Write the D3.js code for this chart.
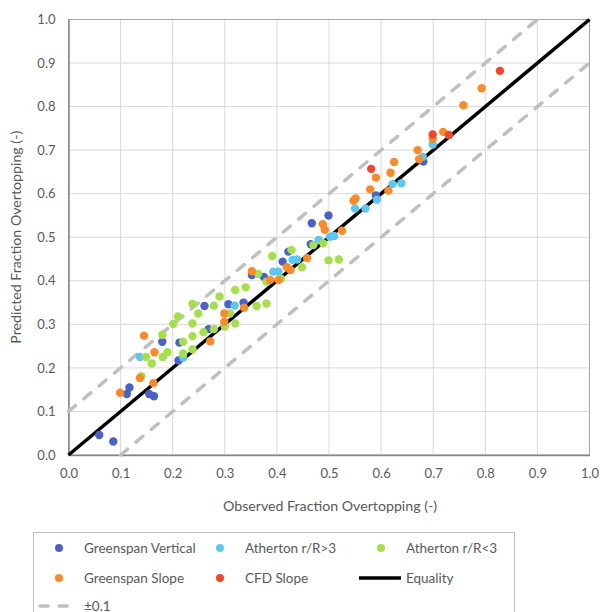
<!DOCTYPE html>
<html>
<head>
<meta charset="utf-8">
<script src="https://cdn.jsdelivr.net/npm/d3@7"></script>
<style>
  body { margin: 0; background: #fff; }
  text { font-family: Lato, "Open Sans", sans-serif; fill: #595959; }
</style>
</head>
<body>
<div id="chart"></div>
<script>
// values
const greenspanVertical = [
  [0.059,0.046],[0.086,0.031],[0.117,0.155],[0.112,0.14],[0.155,0.14],[0.164,0.135],
  [0.18,0.26],[0.211,0.217],[0.213,0.258],[0.269,0.289],[0.261,0.342],[0.307,0.346],
  [0.336,0.35],[0.352,0.413],[0.375,0.409],[0.411,0.444],[0.422,0.467],[0.465,0.484],
  [0.467,0.532],[0.499,0.55],[0.59,0.596],[0.681,0.674]
];
const athertonAbove3 = [
  [0.137,0.225],[0.22,0.224],[0.319,0.343],[0.393,0.421],[0.403,0.421],[0.43,0.448],
  [0.439,0.449],[0.48,0.494],[0.502,0.501],[0.51,0.503],[0.55,0.566],[0.57,0.566],
  [0.592,0.586],[0.622,0.622],[0.639,0.624],[0.68,0.685],[0.699,0.713]
];
const athertonBelow3 = [
  [0.14,0.181],[0.149,0.225],[0.16,0.21],[0.181,0.225],[0.19,0.236],[0.18,0.276],
  [0.22,0.233],[0.22,0.26],[0.238,0.243],[0.238,0.273],[0.259,0.282],[0.279,0.289],
  [0.201,0.301],[0.238,0.302],[0.3,0.295],[0.32,0.302],[0.21,0.318],[0.238,0.347],
  [0.249,0.325],[0.279,0.343],[0.29,0.364],[0.31,0.325],[0.32,0.379],[0.34,0.385],
  [0.361,0.342],[0.364,0.416],[0.38,0.348],[0.38,0.398],[0.408,0.405],[0.391,0.457],
  [0.428,0.471],[0.448,0.431],[0.47,0.482],[0.489,0.486],[0.499,0.447],[0.519,0.449]
];
const greenspanSlope = [
  [0.099,0.143],[0.163,0.165],[0.137,0.177],[0.165,0.236],[0.145,0.274],[0.272,0.261],
  [0.299,0.306],[0.299,0.325],[0.337,0.338],[0.352,0.422],[0.387,0.402],[0.403,0.402],
  [0.419,0.431],[0.426,0.425],[0.458,0.452],[0.488,0.53],[0.492,0.517],[0.525,0.515],
  [0.547,0.584],[0.551,0.589],[0.579,0.61],[0.59,0.637],[0.614,0.607],[0.618,0.648],
  [0.625,0.673],[0.67,0.7],[0.673,0.679],[0.699,0.726],[0.719,0.742],[0.758,0.803],
  [0.793,0.842]
];
const cfdSlope = [[0.581,0.657],[0.699,0.736],[0.73,0.735],[0.828,0.882]];

const equality = [[0,0],[1,1]];
const plusTenth = [[0,0.1],[0.9,1]];
const minusTenth = [[0.1,0],[1,0.9]];
const ticks = d3.range(0, 11).map(i => i / 10);

const series = [
  { name: 'Greenspan Vertical', data: greenspanVertical, color: '#4a62c8' },
  { name: 'Atherton r/R>3', data: athertonAbove3, color: '#5bc8f0' },
  { name: 'Atherton r/R<3', data: athertonBelow3, color: '#a5e04a' },
  { name: 'Greenspan Slope', data: greenspanSlope, color: '#fb8a28' },
  { name: 'CFD Slope', data: cfdSlope, color: '#f0462a' }
];

const width = 600, height = 612;
const svg = d3.select('#chart').append('svg')
  .attr('width', width)
  .attr('height', height);

const x = d3.scaleLinear().domain([0, 1]).range([68.5, 589.5]);
const y = d3.scaleLinear().domain([0, 1]).range([455, 19.5]);

// gridlines
svg.append('g').selectAll('line.gx')
  .data(ticks).join('line')
  .attr('x1', d => x(d)).attr('x2', d => x(d))
  .attr('y1', y(0)).attr('y2', y(1))
  .style('stroke', '#d9d9d9').style('stroke-width', 1);
svg.append('g').selectAll('line.gy')
  .data(ticks).join('line')
  .attr('x1', x(0)).attr('x2', x(1))
  .attr('y1', d => y(d)).attr('y2', d => y(d))
  .style('stroke', '#d9d9d9').style('stroke-width', 1);

// plot border
svg.append('rect')
  .attr('x', x(0)).attr('y', y(1))
  .attr('width', x(1) - x(0)).attr('height', y(0) - y(1))
  .style('fill', 'none').style('stroke', '#a6a6a6').style('stroke-width', 1);

// axes
const xAxis = svg.append('g')
  .attr('transform', `translate(0,${y(0)})`)
  .call(d3.axisBottom(x).tickValues(ticks).tickFormat(d3.format('.1f')).tickSize(0).tickPadding(14));
const yAxis = svg.append('g')
  .attr('transform', `translate(${x(0)},0)`)
  .call(d3.axisLeft(y).tickValues(ticks).tickFormat(d3.format('.1f')).tickSize(0).tickPadding(13));
[xAxis, yAxis].forEach(a => {
  a.select('.domain').style('stroke', '#868686').style('stroke-width', 1.5);
  a.selectAll('text').style('font-size', '13px').style('fill', '#595959');
});

svg.append('text')
  .attr('x', 330).attr('y', 511)
  .attr('text-anchor', 'middle')
  .style('font-size', '14.2px')
  .text('Observed Fraction Overtopping (-)');
svg.append('text')
  .attr('transform', `translate(21,${(y(0) + y(1)) / 2}) rotate(-90)`)
  .attr('text-anchor', 'middle')
  .style('font-size', '14.2px')
  .text('Predicted Fraction Overtopping (-)');

// reference lines
const line = d3.line().x(d => x(d[0])).y(d => y(d[1]));
[plusTenth, minusTenth].forEach(l => {
  svg.append('path').datum(l)
    .attr('d', line)
    .style('fill', 'none').style('stroke', '#bfbfbf')
    .style('stroke-width', 3.5).style('stroke-linecap', 'round')
    .style('stroke-dasharray', '9,11');
});
svg.append('path').datum(equality)
  .attr('d', line)
  .style('fill', 'none').style('stroke', '#000').style('stroke-width', 3.5);

// points
series.forEach(s => {
  svg.append('g').selectAll('circle')
    .data(s.data).join('circle')
    .attr('cx', d => x(d[0]))
    .attr('cy', d => y(d[1]))
    .attr('r', 4.2)
    .style('fill', s.color);
});

// legend
const legend = svg.append('g');
legend.append('rect')
  .attr('x', 33.5).attr('y', 532.5)
  .attr('width', 481).attr('height', 100)
  .style('fill', '#fff').style('stroke', '#bfbfbf').style('stroke-width', 1);

const colX = [59, 220, 381];
const rowY = [548, 578, 606];
series.forEach((s, i) => {
  const cx = colX[i % 3], cy = rowY[Math.floor(i / 3)];
  legend.append('circle').attr('cx', cx).attr('cy', cy).attr('r', 4).style('fill', s.color);
  legend.append('text').attr('x', cx + 25).attr('y', cy + 5)
    .style('font-size', '13.5px').text(s.name);
});
legend.append('line')
  .attr('x1', 359).attr('x2', 401).attr('y1', rowY[1]).attr('y2', rowY[1])
  .style('stroke', '#000').style('stroke-width', 3.5);
legend.append('text').attr('x', 406).attr('y', rowY[1] + 5)
  .style('font-size', '13.5px').text('Equality');
legend.append('line')
  .attr('x1', 40).attr('x2', 74).attr('y1', rowY[2]).attr('y2', rowY[2])
  .style('stroke', '#bfbfbf').style('stroke-width', 3.5).style('stroke-linecap', 'round')
  .style('stroke-dasharray', '8,11');
legend.append('text').attr('x', 84).attr('y', rowY[2] + 4.5)
  .style('font-size', '13.5px').text('±0.1');
</script>
</body>
</html>
